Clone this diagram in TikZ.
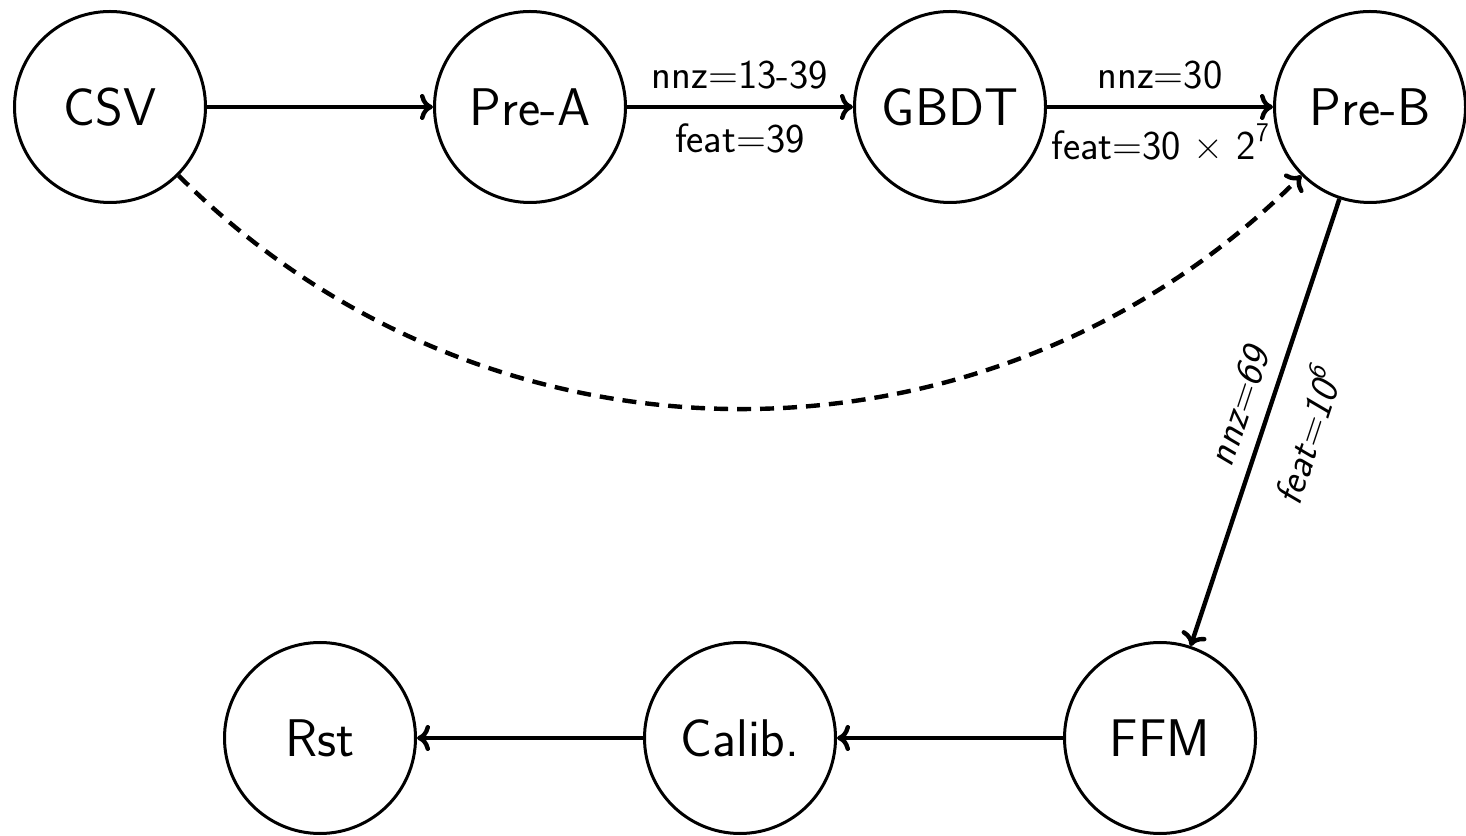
\documentclass[tikz,border=0pt]{standalone}
\usetikzlibrary{arrows.meta,calc}
\newcommand{\supr}[1]{\raisebox{0.42em}{\fontsize{27}{30}\selectfont #1}}
\begin{document}
\begin{tikzpicture}[x=1pt,y=1pt,
  stage/.style={circle,draw,line width=3pt,minimum size=191pt,inner sep=0pt,
    font=\sffamily\fontsize{53}{60}\selectfont},
  flow/.style={line width=4.4pt,-{To[length=13pt,width=26pt]}},
  lbl/.style={font=\sffamily\fontsize{41}{46}\selectfont,inner sep=0pt},
  slbl/.style={font=\sffamily\slshape\fontsize{40}{46}\selectfont,inner sep=0pt}]
\useasboundingbox (0,0) rectangle (1466,835);
\node[stage] (csv)   at (110,728) {CSV};
\node[stage] (prea)  at (530,728) {Pre-A};
\node[stage] (gbdt)  at (950,728) {GBDT};
\node[stage] (preb)  at (1370,728) {Pre-B};
\node[stage] (ffm)   at (1160,97) {FFM};
\node[stage] (calib) at (740,97) {Calib.};
\node[stage] (rst)   at (320,97) {Rst};
\draw[flow] (csv) -- (prea);
\draw[flow] (prea) -- node[lbl,midway,yshift=32pt] {nnz=13-39}
                      node[lbl,midway,yshift=-31pt] {feat=39} (gbdt);
\draw[flow] (gbdt) -- node[lbl,midway,yshift=32pt] {nnz=30}
                      node[lbl,midway,yshift=-35pt] {feat=30 × 2\supr{7}} (preb);
\draw[flow] (preb) -- node[slbl,pos=0.485,sloped,yshift=30pt] {nnz=69}
                      node[slbl,pos=0.50,sloped,yshift=-42pt] {feat=10\supr{6}} (ffm);
\draw[flow] (ffm) -- (calib);
\draw[flow] (calib) -- (rst);
\draw[flow,dash pattern=on 14pt off 9pt] (csv.-45)
  .. controls ($(csv.-45)+(310.8,-310.8)$) and ($(preb.-135)+(-310.8,-310.8)$)
  .. (preb.-135);
\end{tikzpicture}
\end{document}
